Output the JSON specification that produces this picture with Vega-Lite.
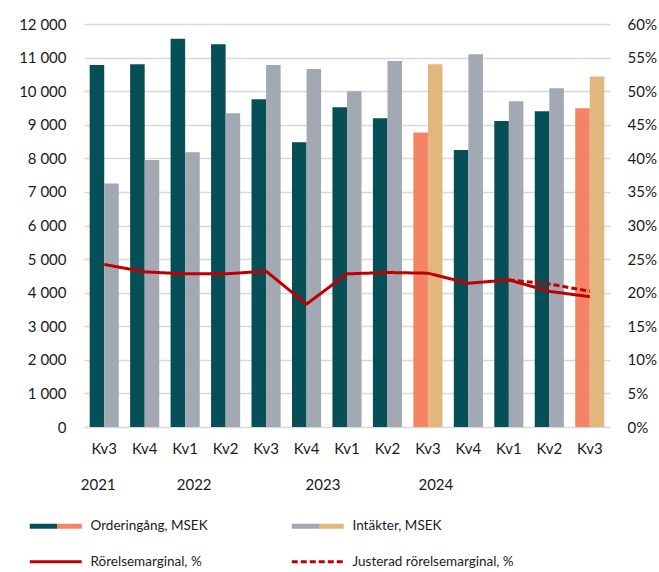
{
  "$schema": "https://vega.github.io/schema/vega-lite/v6.json",
  "width": 526,
  "height": 403,
  "autosize": {"type": "none"},
  "padding": {"left": 84, "top": 24, "right": 49, "bottom": 145},
  "config": {
    "font": "Lato",
    "view": {"stroke": null},
    "axis": {"labelFont": "Lato", "labelFontSize": 15, "labelColor": "#1a1a1a"},
    "legend": {"labelFont": "Lato", "labelFontSize": 13.5, "labelColor": "#1a1a1a", "labelLimit": 400}
  },
  "datasets": {
    "staplar": [
      {"kvartal": "2021 Kv3", "serie": "Orderingång, MSEK", "grupp": "Orderingång, MSEK", "varde": 10780},
      {"kvartal": "2021 Kv3", "serie": "Intäkter, MSEK", "grupp": "Intäkter, MSEK", "varde": 7250},
      {"kvartal": "2021 Kv4", "serie": "Orderingång, MSEK", "grupp": "Orderingång, MSEK", "varde": 10800},
      {"kvartal": "2021 Kv4", "serie": "Intäkter, MSEK", "grupp": "Intäkter, MSEK", "varde": 7950},
      {"kvartal": "2022 Kv1", "serie": "Orderingång, MSEK", "grupp": "Orderingång, MSEK", "varde": 11560},
      {"kvartal": "2022 Kv1", "serie": "Intäkter, MSEK", "grupp": "Intäkter, MSEK", "varde": 8180},
      {"kvartal": "2022 Kv2", "serie": "Orderingång, MSEK", "grupp": "Orderingång, MSEK", "varde": 11400},
      {"kvartal": "2022 Kv2", "serie": "Intäkter, MSEK", "grupp": "Intäkter, MSEK", "varde": 9340},
      {"kvartal": "2022 Kv3", "serie": "Orderingång, MSEK", "grupp": "Orderingång, MSEK", "varde": 9760},
      {"kvartal": "2022 Kv3", "serie": "Intäkter, MSEK", "grupp": "Intäkter, MSEK", "varde": 10780},
      {"kvartal": "2022 Kv4", "serie": "Orderingång, MSEK", "grupp": "Orderingång, MSEK", "varde": 8480},
      {"kvartal": "2022 Kv4", "serie": "Intäkter, MSEK", "grupp": "Intäkter, MSEK", "varde": 10660},
      {"kvartal": "2023 Kv1", "serie": "Orderingång, MSEK", "grupp": "Orderingång, MSEK", "varde": 9520},
      {"kvartal": "2023 Kv1", "serie": "Intäkter, MSEK", "grupp": "Intäkter, MSEK", "varde": 10000},
      {"kvartal": "2023 Kv2", "serie": "Orderingång, MSEK", "grupp": "Orderingång, MSEK", "varde": 9190},
      {"kvartal": "2023 Kv2", "serie": "Intäkter, MSEK", "grupp": "Intäkter, MSEK", "varde": 10900},
      {"kvartal": "2023 Kv3", "serie": "Orderingång, MSEK", "grupp": "Orderingång, MSEK – markerad", "varde": 8770},
      {"kvartal": "2023 Kv3", "serie": "Intäkter, MSEK", "grupp": "Intäkter, MSEK – markerad", "varde": 10800},
      {"kvartal": "2023 Kv4", "serie": "Orderingång, MSEK", "grupp": "Orderingång, MSEK", "varde": 8250},
      {"kvartal": "2023 Kv4", "serie": "Intäkter, MSEK", "grupp": "Intäkter, MSEK", "varde": 11100},
      {"kvartal": "2024 Kv1", "serie": "Orderingång, MSEK", "grupp": "Orderingång, MSEK", "varde": 9110},
      {"kvartal": "2024 Kv1", "serie": "Intäkter, MSEK", "grupp": "Intäkter, MSEK", "varde": 9700},
      {"kvartal": "2024 Kv2", "serie": "Orderingång, MSEK", "grupp": "Orderingång, MSEK", "varde": 9400},
      {"kvartal": "2024 Kv2", "serie": "Intäkter, MSEK", "grupp": "Intäkter, MSEK", "varde": 10090},
      {"kvartal": "2024 Kv3", "serie": "Orderingång, MSEK", "grupp": "Orderingång, MSEK – markerad", "varde": 9490},
      {"kvartal": "2024 Kv3", "serie": "Intäkter, MSEK", "grupp": "Intäkter, MSEK – markerad", "varde": 10440}
    ],
    "marginal": [
      {"kvartal": "2021 Kv3", "serie": "Rörelsemarginal, %", "marginal": 0.242},
      {"kvartal": "2021 Kv4", "serie": "Rörelsemarginal, %", "marginal": 0.231},
      {"kvartal": "2022 Kv1", "serie": "Rörelsemarginal, %", "marginal": 0.228},
      {"kvartal": "2022 Kv2", "serie": "Rörelsemarginal, %", "marginal": 0.228},
      {"kvartal": "2022 Kv3", "serie": "Rörelsemarginal, %", "marginal": 0.232},
      {"kvartal": "2022 Kv4", "serie": "Rörelsemarginal, %", "marginal": 0.183},
      {"kvartal": "2023 Kv1", "serie": "Rörelsemarginal, %", "marginal": 0.228},
      {"kvartal": "2023 Kv2", "serie": "Rörelsemarginal, %", "marginal": 0.230},
      {"kvartal": "2023 Kv3", "serie": "Rörelsemarginal, %", "marginal": 0.229},
      {"kvartal": "2023 Kv4", "serie": "Rörelsemarginal, %", "marginal": 0.214},
      {"kvartal": "2024 Kv1", "serie": "Rörelsemarginal, %", "marginal": 0.219},
      {"kvartal": "2024 Kv2", "serie": "Rörelsemarginal, %", "marginal": 0.202},
      {"kvartal": "2024 Kv3", "serie": "Rörelsemarginal, %", "marginal": 0.194},
      {"kvartal": "2024 Kv1", "serie": "Justerad rörelsemarginal, %", "marginal": 0.219},
      {"kvartal": "2024 Kv2", "serie": "Justerad rörelsemarginal, %", "marginal": 0.213},
      {"kvartal": "2024 Kv3", "serie": "Justerad rörelsemarginal, %", "marginal": 0.202}
    ]
  },
  "layer": [
    {
      "layer": [
        {
          "data": {"name": "staplar"},
          "mark": {"type": "bar"},
          "encoding": {
            "x": {
              "field": "kvartal", "type": "nominal", "sort": null,
              "scale": {"paddingInner": 0.28, "paddingOuter": 0.14},
              "axis": {"title": null, "labelExpr": "split(datum.value, ' ')[1]", "labelAngle": 0, "ticks": false, "domain": false, "grid": false, "labelPadding": 14}
            },
            "xOffset": {"field": "serie", "type": "nominal", "sort": ["Orderingång, MSEK", "Intäkter, MSEK"], "scale": {"paddingInner": 0, "paddingOuter": 0}},
            "y": {
              "field": "varde", "type": "quantitative",
              "scale": {"domain": [0, 12000], "nice": false},
              "axis": {"title": null, "values": [0, 1000, 2000, 3000, 4000, 5000, 6000, 7000, 8000, 9000, 10000, 11000, 12000], "labelOverlap": false, "labelExpr": "replace(format(datum.value, ','), ',', ' ')", "grid": true, "gridColor": "#d9d9d9", "gridWidth": 1.5, "domain": false, "ticks": false, "labelPadding": 18}
            },
            "color": {
              "field": "grupp", "type": "nominal",
              "scale": {
                "domain": ["Orderingång, MSEK", "Intäkter, MSEK", "Rörelsemarginal, %", "Justerad rörelsemarginal, %", "Orderingång, MSEK – markerad", "Intäkter, MSEK – markerad"],
                "range": ["#074f57", "#a2a9b3", "#c00000", "#c00000", "#f58466", "#e2b77d"]
              },
              "legend": null
            }
          }
        },
        {
          "data": {"values": [{"ar": "2021", "kvartal": "2021 Kv3"}]},
          "mark": {"type": "text", "dy": 58, "dx": -6, "fontSize": 15, "font": "Lato", "color": "#1a1a1a"},
          "encoding": {
            "x": {"field": "kvartal", "type": "nominal", "sort": null, "axis": {"title": null, "labelExpr": "split(datum.value, ' ')[1]", "labelAngle": 0, "ticks": false, "domain": false, "grid": false, "labelPadding": 14}},
            "y": {"datum": 0, "type": "quantitative", "axis": {"title": null, "values": [0, 1000, 2000, 3000, 4000, 5000, 6000, 7000, 8000, 9000, 10000, 11000, 12000], "labelOverlap": false, "labelExpr": "replace(format(datum.value, ','), ',', ' ')", "grid": true, "gridColor": "#d9d9d9", "gridWidth": 1.5, "domain": false, "ticks": false, "labelPadding": 18}},
            "text": {"field": "ar"}
          }
        },
        {
          "data": {"values": [{"ar": "2022", "kvartal": "2022 Kv1"}]},
          "mark": {"type": "text", "dy": 58, "dx": 9, "fontSize": 15, "font": "Lato", "color": "#1a1a1a"},
          "encoding": {
            "x": {"field": "kvartal", "type": "nominal", "sort": null, "axis": {"title": null, "labelExpr": "split(datum.value, ' ')[1]", "labelAngle": 0, "ticks": false, "domain": false, "grid": false, "labelPadding": 14}},
            "y": {"datum": 0, "type": "quantitative", "axis": {"title": null, "values": [0, 1000, 2000, 3000, 4000, 5000, 6000, 7000, 8000, 9000, 10000, 11000, 12000], "labelOverlap": false, "labelExpr": "replace(format(datum.value, ','), ',', ' ')", "grid": true, "gridColor": "#d9d9d9", "gridWidth": 1.5, "domain": false, "ticks": false, "labelPadding": 18}},
            "text": {"field": "ar"}
          }
        },
        {
          "data": {"values": [{"ar": "2023", "kvartal": "2023 Kv1"}]},
          "mark": {"type": "text", "dy": 58, "dx": -24, "fontSize": 15, "font": "Lato", "color": "#1a1a1a"},
          "encoding": {
            "x": {"field": "kvartal", "type": "nominal", "sort": null, "axis": {"title": null, "labelExpr": "split(datum.value, ' ')[1]", "labelAngle": 0, "ticks": false, "domain": false, "grid": false, "labelPadding": 14}},
            "y": {"datum": 0, "type": "quantitative", "axis": {"title": null, "values": [0, 1000, 2000, 3000, 4000, 5000, 6000, 7000, 8000, 9000, 10000, 11000, 12000], "labelOverlap": false, "labelExpr": "replace(format(datum.value, ','), ',', ' ')", "grid": true, "gridColor": "#d9d9d9", "gridWidth": 1.5, "domain": false, "ticks": false, "labelPadding": 18}},
            "text": {"field": "ar"}
          }
        },
        {
          "data": {"values": [{"ar": "2024", "kvartal": "2024 Kv1"}]},
          "mark": {"type": "text", "dy": 58, "dx": -73, "fontSize": 15, "font": "Lato", "color": "#1a1a1a"},
          "encoding": {
            "x": {"field": "kvartal", "type": "nominal", "sort": null, "axis": {"title": null, "labelExpr": "split(datum.value, ' ')[1]", "labelAngle": 0, "ticks": false, "domain": false, "grid": false, "labelPadding": 14}},
            "y": {"datum": 0, "type": "quantitative", "axis": {"title": null, "values": [0, 1000, 2000, 3000, 4000, 5000, 6000, 7000, 8000, 9000, 10000, 11000, 12000], "labelOverlap": false, "labelExpr": "replace(format(datum.value, ','), ',', ' ')", "grid": true, "gridColor": "#d9d9d9", "gridWidth": 1.5, "domain": false, "ticks": false, "labelPadding": 18}},
            "text": {"field": "ar"}
          }
        }
      ]
    },
    {
      "data": {"name": "marginal"},
      "mark": {"type": "line", "strokeWidth": 3, "strokeJoin": "round"},
      "encoding": {
        "x": {"field": "kvartal", "type": "nominal", "sort": null, "axis": {"title": null, "labelExpr": "split(datum.value, ' ')[1]", "labelAngle": 0, "ticks": false, "domain": false, "grid": false, "labelPadding": 14}},
        "y": {
          "field": "marginal", "type": "quantitative",
          "scale": {"domain": [0, 0.6], "nice": false},
          "axis": {"orient": "right", "title": null, "values": [0, 0.05, 0.1, 0.15, 0.2, 0.25, 0.3, 0.35, 0.4, 0.45, 0.5, 0.55, 0.6], "labelOverlap": false, "format": ".0%", "grid": false, "domain": false, "ticks": false, "labelPadding": 17}
        },
        "color": {"field": "serie", "type": "nominal", "legend": null},
        "strokeDash": {
          "field": "serie", "type": "nominal",
          "scale": {
            "domain": ["Orderingång, MSEK", "Intäkter, MSEK", "Rörelsemarginal, %", "Justerad rörelsemarginal, %"],
            "range": [[1, 0], [1, 0], [1, 0], [6, 3]]
          },
          "legend": {
            "title": null,
            "values": ["Orderingång, MSEK", "Rörelsemarginal, %", "Intäkter, MSEK", "Justerad rörelsemarginal, %"],
            "orient": "none",
            "legendX": -35,
            "legendY": 495,
            "columns": 2,
            "columnPadding": 77,
            "rowPadding": 21,
            "padding": 0,
            "symbolSize": 400,
            "labelOffset": 28,
            "encode": {
              "symbols": {
                "update": {
                  "shape": {"signal": "(datum.value === 'Orderingång, MSEK' || datum.value === 'Intäkter, MSEK') ? 'M-2.6,-0.25H2.6V0.25H-2.6Z' : 'M-2.6,0H2.6'"},
                  "fill": [
                    {"test": "datum.value === 'Orderingång, MSEK'", "value": {"gradient": "linear", "x1": 0, "y1": 0, "x2": 1, "y2": 0, "stops": [{"offset": 0, "color": "#074f57"}, {"offset": 0.52, "color": "#074f57"}, {"offset": 0.52, "color": "#f58466"}, {"offset": 1, "color": "#f58466"}]}},
                    {"test": "datum.value === 'Intäkter, MSEK'", "value": {"gradient": "linear", "x1": 0, "y1": 0, "x2": 1, "y2": 0, "stops": [{"offset": 0, "color": "#a2a9b3"}, {"offset": 0.52, "color": "#a2a9b3"}, {"offset": 0.52, "color": "#e2b77d"}, {"offset": 1, "color": "#e2b77d"}]}},
                    {"value": "transparent"}
                  ],
                  "stroke": {"signal": "(datum.value === 'Orderingång, MSEK' || datum.value === 'Intäkter, MSEK') ? 'transparent' : '#c00000'"},
                  "strokeWidth": {"signal": "(datum.value === 'Orderingång, MSEK' || datum.value === 'Intäkter, MSEK') ? 0 : 3"},
                  "opacity": {"value": 1},
                  "fillOpacity": {"value": 1},
                  "strokeOpacity": {"value": 1}
                }
              }
            }
          }
        }
      }
    }
  ],
  "resolve": {"scale": {"y": "independent"}}
}
